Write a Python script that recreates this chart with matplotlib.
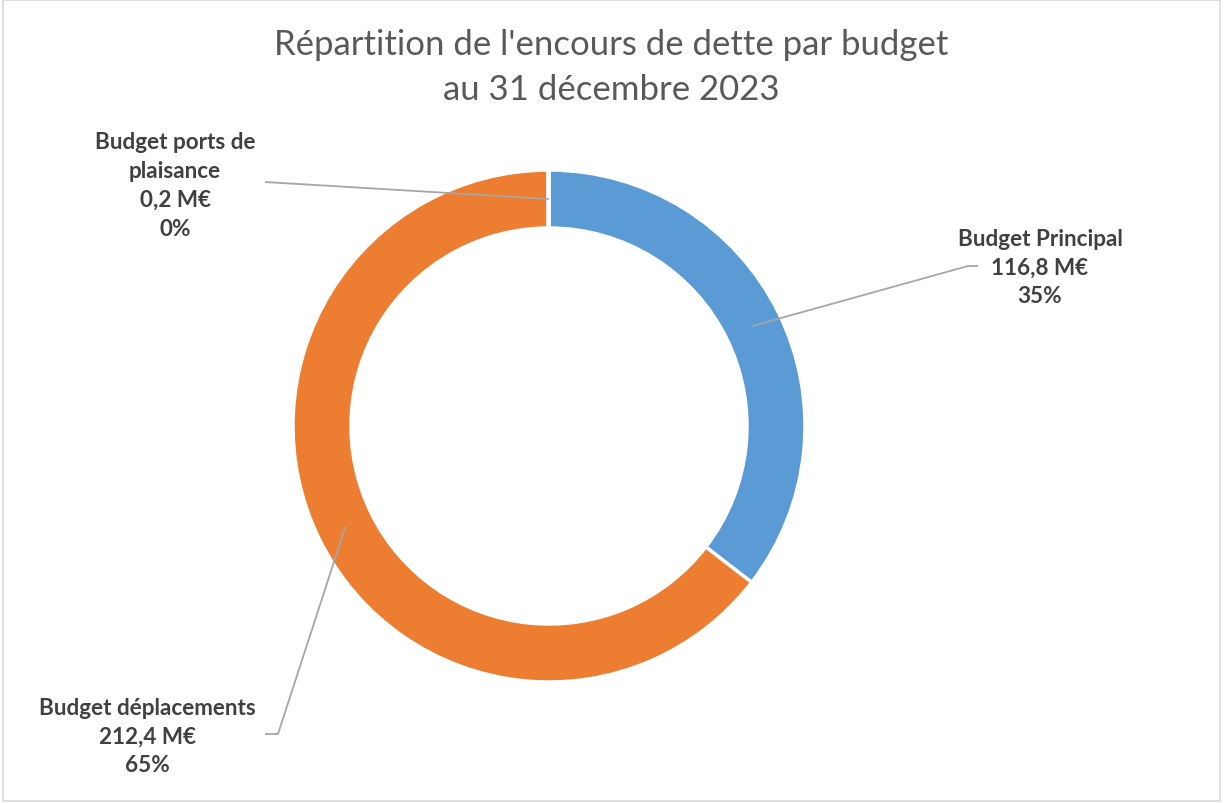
import matplotlib.pyplot as plt
import numpy as np

plt.rcParams['font.family'] = ['Lato', 'DejaVu Sans']

budgets = ['Budget Principal', 'Budget déplacements', 'Budget ports de\nplaisance']
montants = [116.8, 212.4, 0.2]  # M€
pourcentages = [35, 65, 0]  # tels qu'affichés
couleurs = ['#5B9BD5', '#ED7D31', '#A5A5A5']

W, H = 1225, 804
fig = plt.figure(figsize=(W / 100, H / 100), dpi=100)
ax = fig.add_axes([0, 0, 1, 1])

cx, cy, r = 549, H - 427, 256
ring = 58

wedges, _ = ax.pie(montants, colors=couleurs, startangle=90, counterclock=False,
                   center=(cx, cy), radius=r,
                   wedgeprops=dict(width=ring, edgecolor='white', linewidth=2.5))

ax.set_xlim(0, W)
ax.set_ylim(0, H)
ax.set_aspect('equal')
ax.axis('off')

# titre
fig.text(611 / W, 1 - 45 / H, "Répartition de l'encours de dette par budget",
         ha='center', va='center', fontsize=25, color='#595959')
fig.text(611 / W, 1 - 90 / H, "au 31 décembre 2023",
         ha='center', va='center', fontsize=25, color='#595959')

# étiquettes : position du texte, coude et extrémité du trait
labels_pos = [(1040, 268), (147, 737), (175, 186)]
coudes = [[(968, 267), (978, 267)], [(278, 735), (265, 735)], [(265, 183)]]

for w, nom, val, pct, (tx, ty), pts in zip(wedges, budgets, montants, pourcentages,
                                           labels_pos, coudes):
    mid = np.deg2rad((w.theta1 + w.theta2) / 2)
    rm = r - ring / 2
    ax0, ay0 = cx + rm * np.cos(mid), cy + rm * np.sin(mid)
    xs = [ax0] + [p[0] for p in pts]
    ys = [ay0] + [H - p[1] for p in pts]
    ax.plot(xs, ys, color='#A6A6A6', lw=1.3, solid_capstyle='butt')
    txt = f"{nom}\n{str(val).replace('.', ',')} M€\n{pct}%"
    ax.text(tx, H - ty, txt, ha='center', va='center', fontsize=16.2,
            fontweight='bold', color='#404040', linespacing=1.47)

# cadre
fig.patches.append(plt.Rectangle((3 / W, 0.002), 1 - 8 / W, 0.997,
                                 transform=fig.transFigure, fill=False,
                                 edgecolor='#D9D9D9', lw=1.2))

plt.savefig('out.png', dpi=100)
